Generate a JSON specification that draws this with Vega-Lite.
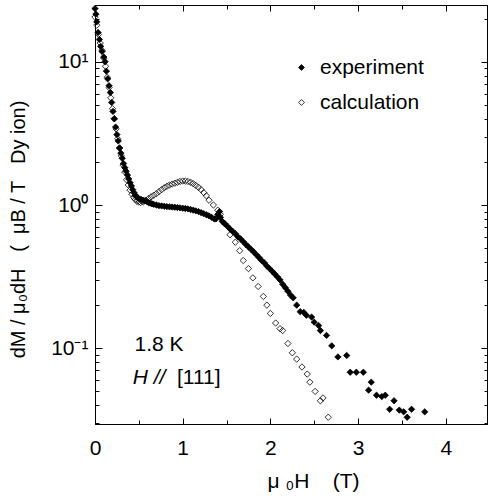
{
  "$schema": "https://vega.github.io/schema/vega-lite/v6.json",
  "width": 392,
  "height": 419,
  "autosize": {"type": "none"},
  "padding": {"left": 95, "top": 5, "right": 1, "bottom": 75},
  "background": "white",
  "config": {
    "view": {"stroke": "black", "strokeWidth": 1},
    "font": "Liberation Sans",
    "axis": {"domainColor": "black", "tickColor": "black", "labelColor": "black", "titleColor": "black", "grid": false, "labelFont": "Liberation Sans", "titleFont": "Liberation Sans"}
  },
  "datasets": {
    "pts": [
      {"series": "experiment", "H": 0.00, "v": 23.5},
      {"series": "experiment", "H": 0.01, "v": 21.5},
      {"series": "experiment", "H": 0.02, "v": 19.0},
      {"series": "experiment", "H": 0.035, "v": 16.0},
      {"series": "experiment", "H": 0.05, "v": 14.3},
      {"series": "experiment", "H": 0.065, "v": 12.8},
      {"series": "experiment", "H": 0.08, "v": 11.8},
      {"series": "experiment", "H": 0.10, "v": 10.8},
      {"series": "experiment", "H": 0.115, "v": 10.0},
      {"series": "experiment", "H": 0.13, "v": 8.6},
      {"series": "experiment", "H": 0.145, "v": 7.6},
      {"series": "experiment", "H": 0.16, "v": 6.8},
      {"series": "experiment", "H": 0.175, "v": 6.1},
      {"series": "experiment", "H": 0.19, "v": 5.2},
      {"series": "experiment", "H": 0.205, "v": 4.5},
      {"series": "experiment", "H": 0.22, "v": 4.0},
      {"series": "experiment", "H": 0.235, "v": 3.5},
      {"series": "experiment", "H": 0.25, "v": 3.1},
      {"series": "experiment", "H": 0.265, "v": 2.8},
      {"series": "experiment", "H": 0.28, "v": 2.5},
      {"series": "experiment", "H": 0.295, "v": 2.3},
      {"series": "experiment", "H": 0.31, "v": 2.12},
      {"series": "experiment", "H": 0.325, "v": 1.95},
      {"series": "experiment", "H": 0.34, "v": 1.82},
      {"series": "experiment", "H": 0.355, "v": 1.72},
      {"series": "experiment", "H": 0.37, "v": 1.62},
      {"series": "experiment", "H": 0.385, "v": 1.52},
      {"series": "experiment", "H": 0.40, "v": 1.43},
      {"series": "experiment", "H": 0.415, "v": 1.36},
      {"series": "experiment", "H": 0.43, "v": 1.28},
      {"series": "experiment", "H": 0.445, "v": 1.22},
      {"series": "experiment", "H": 0.46, "v": 1.17},
      {"series": "experiment", "H": 0.475, "v": 1.14},
      {"series": "experiment", "H": 0.49, "v": 1.12},
      {"series": "experiment", "H": 0.51, "v": 1.10},
      {"series": "experiment", "H": 0.53, "v": 1.09},
      {"series": "experiment", "H": 0.55, "v": 1.08},
      {"series": "experiment", "H": 0.57, "v": 1.07},
      {"series": "experiment", "H": 0.59, "v": 1.06},
      {"series": "experiment", "H": 0.61, "v": 1.04},
      {"series": "experiment", "H": 0.63, "v": 1.03},
      {"series": "experiment", "H": 0.65, "v": 1.02},
      {"series": "experiment", "H": 0.67, "v": 1.01},
      {"series": "experiment", "H": 0.70, "v": 1.00},
      {"series": "experiment", "H": 0.73, "v": 0.99},
      {"series": "experiment", "H": 0.76, "v": 0.985},
      {"series": "experiment", "H": 0.79, "v": 0.98},
      {"series": "experiment", "H": 0.82, "v": 0.975},
      {"series": "experiment", "H": 0.85, "v": 0.97},
      {"series": "experiment", "H": 0.88, "v": 0.968},
      {"series": "experiment", "H": 0.91, "v": 0.965},
      {"series": "experiment", "H": 0.94, "v": 0.96},
      {"series": "experiment", "H": 0.97, "v": 0.955},
      {"series": "experiment", "H": 1.00, "v": 0.95},
      {"series": "experiment", "H": 1.03, "v": 0.945},
      {"series": "experiment", "H": 1.06, "v": 0.94},
      {"series": "experiment", "H": 1.09, "v": 0.93},
      {"series": "experiment", "H": 1.12, "v": 0.92},
      {"series": "experiment", "H": 1.15, "v": 0.91},
      {"series": "experiment", "H": 1.18, "v": 0.90},
      {"series": "experiment", "H": 1.21, "v": 0.885},
      {"series": "experiment", "H": 1.24, "v": 0.87},
      {"series": "experiment", "H": 1.27, "v": 0.855},
      {"series": "experiment", "H": 1.30, "v": 0.84},
      {"series": "experiment", "H": 1.33, "v": 0.82},
      {"series": "experiment", "H": 1.36, "v": 0.80},
      {"series": "experiment", "H": 1.38, "v": 0.80},
      {"series": "experiment", "H": 1.40, "v": 0.86},
      {"series": "experiment", "H": 1.42, "v": 0.90},
      {"series": "experiment", "H": 1.43, "v": 0.82},
      {"series": "experiment", "H": 1.45, "v": 0.77},
      {"series": "experiment", "H": 1.48, "v": 0.74},
      {"series": "experiment", "H": 1.51, "v": 0.71},
      {"series": "experiment", "H": 1.54, "v": 0.68},
      {"series": "experiment", "H": 1.57, "v": 0.655},
      {"series": "experiment", "H": 1.60, "v": 0.63},
      {"series": "experiment", "H": 1.63, "v": 0.60},
      {"series": "experiment", "H": 1.66, "v": 0.58},
      {"series": "experiment", "H": 1.69, "v": 0.555},
      {"series": "experiment", "H": 1.72, "v": 0.53},
      {"series": "experiment", "H": 1.75, "v": 0.51},
      {"series": "experiment", "H": 1.78, "v": 0.49},
      {"series": "experiment", "H": 1.81, "v": 0.47},
      {"series": "experiment", "H": 1.84, "v": 0.45},
      {"series": "experiment", "H": 1.87, "v": 0.43},
      {"series": "experiment", "H": 1.90, "v": 0.41},
      {"series": "experiment", "H": 1.93, "v": 0.395},
      {"series": "experiment", "H": 1.96, "v": 0.375},
      {"series": "experiment", "H": 1.99, "v": 0.36},
      {"series": "experiment", "H": 2.02, "v": 0.345},
      {"series": "experiment", "H": 2.05, "v": 0.33},
      {"series": "experiment", "H": 2.08, "v": 0.315},
      {"series": "experiment", "H": 2.11, "v": 0.30},
      {"series": "experiment", "H": 2.14, "v": 0.28},
      {"series": "experiment", "H": 2.17, "v": 0.265},
      {"series": "experiment", "H": 2.20, "v": 0.25},
      {"series": "experiment", "H": 2.23, "v": 0.235},
      {"series": "experiment", "H": 2.26, "v": 0.225},
      {"series": "experiment", "H": 2.30, "v": 0.20},
      {"series": "experiment", "H": 2.34, "v": 0.18},
      {"series": "experiment", "H": 2.38, "v": 0.178},
      {"series": "experiment", "H": 2.41, "v": 0.17},
      {"series": "experiment", "H": 2.47, "v": 0.165},
      {"series": "experiment", "H": 2.50, "v": 0.152},
      {"series": "experiment", "H": 2.55, "v": 0.144},
      {"series": "experiment", "H": 2.57, "v": 0.133},
      {"series": "experiment", "H": 2.64, "v": 0.123},
      {"series": "experiment", "H": 2.70, "v": 0.104},
      {"series": "experiment", "H": 2.77, "v": 0.087},
      {"series": "experiment", "H": 2.87, "v": 0.089},
      {"series": "experiment", "H": 2.91, "v": 0.068},
      {"series": "experiment", "H": 2.98, "v": 0.068},
      {"series": "experiment", "H": 3.06, "v": 0.068},
      {"series": "experiment", "H": 3.12, "v": 0.051},
      {"series": "experiment", "H": 3.15, "v": 0.058},
      {"series": "experiment", "H": 3.21, "v": 0.047},
      {"series": "experiment", "H": 3.27, "v": 0.046},
      {"series": "experiment", "H": 3.31, "v": 0.047},
      {"series": "experiment", "H": 3.36, "v": 0.0375},
      {"series": "experiment", "H": 3.41, "v": 0.043},
      {"series": "experiment", "H": 3.47, "v": 0.037},
      {"series": "experiment", "H": 3.52, "v": 0.036},
      {"series": "experiment", "H": 3.56, "v": 0.033},
      {"series": "experiment", "H": 3.61, "v": 0.0375},
      {"series": "experiment", "H": 3.76, "v": 0.036},
      {"series": "calculation", "H": 0.00, "v": 20.5},
      {"series": "calculation", "H": 0.02, "v": 18.0},
      {"series": "calculation", "H": 0.04, "v": 15.5},
      {"series": "calculation", "H": 0.06, "v": 13.5},
      {"series": "calculation", "H": 0.08, "v": 12.0},
      {"series": "calculation", "H": 0.10, "v": 10.6},
      {"series": "calculation", "H": 0.12, "v": 9.3},
      {"series": "calculation", "H": 0.14, "v": 7.8},
      {"series": "calculation", "H": 0.16, "v": 6.6},
      {"series": "calculation", "H": 0.18, "v": 5.6},
      {"series": "calculation", "H": 0.20, "v": 4.7},
      {"series": "calculation", "H": 0.22, "v": 4.0},
      {"series": "calculation", "H": 0.24, "v": 3.4},
      {"series": "calculation", "H": 0.26, "v": 2.9},
      {"series": "calculation", "H": 0.28, "v": 2.5},
      {"series": "calculation", "H": 0.30, "v": 2.2},
      {"series": "calculation", "H": 0.32, "v": 1.9},
      {"series": "calculation", "H": 0.34, "v": 1.7},
      {"series": "calculation", "H": 0.36, "v": 1.5},
      {"series": "calculation", "H": 0.38, "v": 1.38},
      {"series": "calculation", "H": 0.40, "v": 1.27},
      {"series": "calculation", "H": 0.42, "v": 1.19},
      {"series": "calculation", "H": 0.44, "v": 1.13},
      {"series": "calculation", "H": 0.46, "v": 1.09},
      {"series": "calculation", "H": 0.48, "v": 1.06},
      {"series": "calculation", "H": 0.50, "v": 1.05},
      {"series": "calculation", "H": 0.52, "v": 1.04},
      {"series": "calculation", "H": 0.55, "v": 1.05},
      {"series": "calculation", "H": 0.58, "v": 1.08},
      {"series": "calculation", "H": 0.61, "v": 1.11},
      {"series": "calculation", "H": 0.64, "v": 1.14},
      {"series": "calculation", "H": 0.67, "v": 1.17},
      {"series": "calculation", "H": 0.70, "v": 1.20},
      {"series": "calculation", "H": 0.73, "v": 1.24},
      {"series": "calculation", "H": 0.76, "v": 1.28},
      {"series": "calculation", "H": 0.79, "v": 1.32},
      {"series": "calculation", "H": 0.82, "v": 1.35},
      {"series": "calculation", "H": 0.85, "v": 1.38},
      {"series": "calculation", "H": 0.88, "v": 1.40},
      {"series": "calculation", "H": 0.91, "v": 1.42},
      {"series": "calculation", "H": 0.94, "v": 1.44},
      {"series": "calculation", "H": 0.97, "v": 1.46},
      {"series": "calculation", "H": 1.00, "v": 1.47},
      {"series": "calculation", "H": 1.03, "v": 1.47},
      {"series": "calculation", "H": 1.06, "v": 1.46},
      {"series": "calculation", "H": 1.09, "v": 1.44},
      {"series": "calculation", "H": 1.12, "v": 1.41},
      {"series": "calculation", "H": 1.15, "v": 1.37},
      {"series": "calculation", "H": 1.18, "v": 1.33},
      {"series": "calculation", "H": 1.21, "v": 1.28},
      {"series": "calculation", "H": 1.24, "v": 1.22},
      {"series": "calculation", "H": 1.27, "v": 1.16},
      {"series": "calculation", "H": 1.30, "v": 1.08},
      {"series": "calculation", "H": 1.35, "v": 1.00},
      {"series": "calculation", "H": 1.40, "v": 0.92},
      {"series": "calculation", "H": 1.43, "v": 0.86},
      {"series": "calculation", "H": 1.48, "v": 0.74},
      {"series": "calculation", "H": 1.54, "v": 0.62},
      {"series": "calculation", "H": 1.60, "v": 0.55},
      {"series": "calculation", "H": 1.65, "v": 0.48},
      {"series": "calculation", "H": 1.69, "v": 0.41},
      {"series": "calculation", "H": 1.75, "v": 0.36},
      {"series": "calculation", "H": 1.80, "v": 0.31},
      {"series": "calculation", "H": 1.86, "v": 0.27},
      {"series": "calculation", "H": 1.92, "v": 0.23},
      {"series": "calculation", "H": 1.96, "v": 0.20},
      {"series": "calculation", "H": 2.00, "v": 0.175},
      {"series": "calculation", "H": 2.06, "v": 0.15},
      {"series": "calculation", "H": 2.11, "v": 0.137},
      {"series": "calculation", "H": 2.14, "v": 0.133},
      {"series": "calculation", "H": 2.20, "v": 0.108},
      {"series": "calculation", "H": 2.25, "v": 0.093},
      {"series": "calculation", "H": 2.30, "v": 0.084},
      {"series": "calculation", "H": 2.36, "v": 0.074},
      {"series": "calculation", "H": 2.42, "v": 0.066},
      {"series": "calculation", "H": 2.45, "v": 0.058},
      {"series": "calculation", "H": 2.51, "v": 0.050},
      {"series": "calculation", "H": 2.57, "v": 0.043},
      {"series": "calculation", "H": 2.60, "v": 0.045},
      {"series": "calculation", "H": 2.66, "v": 0.033}
    ],
    "notes": [
      {"label": "1.8 K", "H": 0.45, "v": 0.106}
    ],
    "notesItalic": [
      {"label": "H //", "H": 0.43, "v": 0.0623}
    ],
    "notes2": [
      {"label": "[111]", "H": 0.935, "v": 0.0623}
    ]
  },
  "layer": [
    {
      "data": {"name": "pts"},
      "mark": {"type": "point", "shape": "diamond", "filled": true, "stroke": "black", "strokeWidth": 0.8, "size": 40, "opacity": 1},
      "encoding": {
        "x": {
          "field": "H", "type": "quantitative",
          "scale": {"domain": [0, 4.47], "nice": false, "zero": false},
          "axis": {
            "orient": "bottom",
            "values": [0, 0.5, 1, 1.5, 2, 2.5, 3, 3.5, 4],
            "labelExpr": "datum.value % 1 == 0 ? format(datum.value, 'd') : ''",
            "tickSize": {"condition": {"test": "datum.value % 1 == 0", "value": -6}, "value": -4},
            "labelPadding": 19,
            "labelFontSize": 21,
            "labelFlush": false,
            "title": "μ\u00a0₀H\u00a0\u00a0\u00a0\u00a0(T)",
            "titleFontSize": 21,
            "titleFontWeight": "normal",
            "titlePadding": 12,
            "titleX": 218
          }
        },
        "y": {
          "field": "v", "type": "quantitative",
          "scale": {"type": "log", "domain": [0.0296, 24.9], "nice": false},
          "axis": {
            "orient": "left",
            "values": [0.03, 0.04, 0.05, 0.06, 0.07, 0.08, 0.09, 0.1, 0.2, 0.3, 0.4, 0.5, 0.6, 0.7, 0.8, 0.9, 1, 2, 3, 4, 5, 6, 7, 8, 9, 10, 20],
            "labelExpr": "datum.value == 10 ? '10¹' : datum.value == 1 ? '10⁰' : datum.value == 0.1 ? '10⁻¹' : ''",
            "tickSize": {"condition": {"test": "datum.value == 10 || datum.value == 1 || datum.value == 0.1", "value": -7}, "value": -4},
            "labelPadding": 14,
            "labelFontSize": 21,
            "labelFlush": false,
            "title": "dM / μ₀dH\u00a0\u00a0\u00a0(\u00a0\u00a0μB / T\u00a0\u00a0\u00a0Dy ion)",
            "titleFontSize": 20,
            "titleFontWeight": "normal",
            "titlePadding": 22,
            "titleY": 224
          }
        },
        "fill": {
          "field": "series", "type": "nominal",
          "scale": {"domain": ["experiment", "calculation"], "range": ["black", "transparent"]},
          "legend": {
            "title": null,
            "orient": "none",
            "legendX": 196,
            "legendY": 52,
            "symbolType": "diamond",
            "symbolSize": 34,
            "symbolStrokeColor": "black",
            "symbolStrokeWidth": 0.8,
            "labelFontSize": 21,
            "labelFont": "Liberation Sans",
            "labelColor": "black",
            "labelOffset": 8,
            "rowPadding": 13
          }
        }
      }
    },
    {
      "data": {"name": "pts"},
      "mark": {"type": "point", "opacity": 0},
      "encoding": {
        "x": {"field": "H", "type": "quantitative",
          "axis": {"orient": "top", "values": [0, 0.5, 1, 1.5, 2, 2.5, 3, 3.5, 4],
            "labels": false, "title": null, "domain": true, "ticks": true,
            "tickSize": {"condition": {"test": "datum.value % 1 == 0", "value": -6}, "value": -4}}},
        "y": {"field": "v", "type": "quantitative",
          "axis": {"orient": "right",
            "values": [0.03, 0.04, 0.05, 0.06, 0.07, 0.08, 0.09, 0.1, 0.2, 0.3, 0.4, 0.5, 0.6, 0.7, 0.8, 0.9, 1, 2, 3, 4, 5, 6, 7, 8, 9, 10, 20],
            "labels": false, "title": null, "domain": true, "ticks": true,
            "tickSize": {"condition": {"test": "datum.value == 10 || datum.value == 1 || datum.value == 0.1", "value": -6}, "value": -3}}}
      }
    },
    {
      "data": {"name": "notes"},
      "mark": {"type": "text", "align": "left", "baseline": "middle", "fontSize": 21, "font": "Liberation Sans", "color": "black"},
      "encoding": {
        "x": {"field": "H", "type": "quantitative", "axis": null},
        "y": {"field": "v", "type": "quantitative", "axis": null},
        "text": {"field": "label"}
      }
    },
    {
      "data": {"name": "notesItalic"},
      "mark": {"type": "text", "align": "left", "baseline": "middle", "fontSize": 21, "fontStyle": "italic", "font": "Liberation Sans", "color": "black"},
      "encoding": {
        "x": {"field": "H", "type": "quantitative", "axis": null},
        "y": {"field": "v", "type": "quantitative", "axis": null},
        "text": {"field": "label"}
      }
    },
    {
      "data": {"name": "notes2"},
      "mark": {"type": "text", "align": "left", "baseline": "middle", "fontSize": 21, "font": "Liberation Sans", "color": "black"},
      "encoding": {
        "x": {"field": "H", "type": "quantitative", "axis": null},
        "y": {"field": "v", "type": "quantitative", "axis": null},
        "text": {"field": "label"}
      }
    }
  ],
  "resolve": {"axis": {"x": "independent", "y": "independent"}}
}
